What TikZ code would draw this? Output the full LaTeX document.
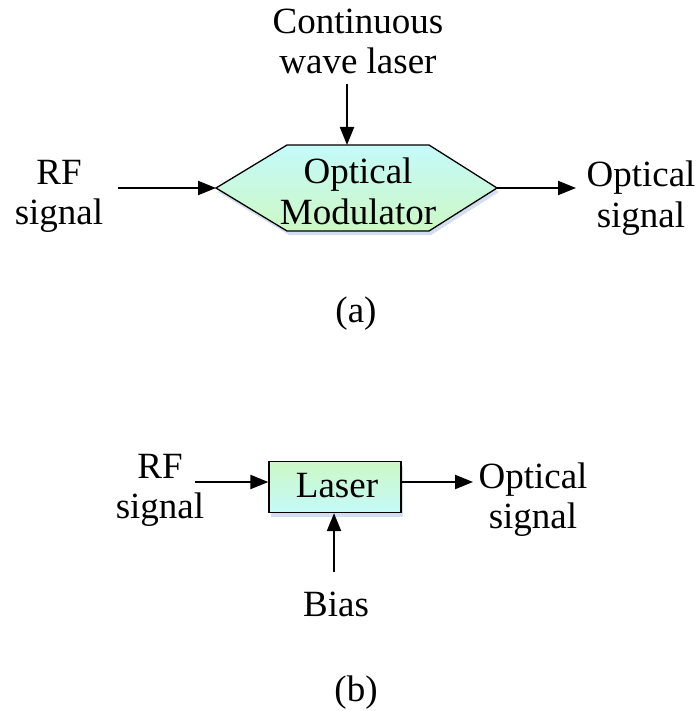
\documentclass[tikz,border=0pt]{standalone}
\usepackage{fontspec}
\setmainfont{Liberation Serif}
\usetikzlibrary{arrows.meta,shadows}
\definecolor{cyanfill}{HTML}{C4FAFA}
\definecolor{greenfill}{HTML}{CCF8C4}
\definecolor{shade}{HTML}{B8C8E8}
\tikzset{
  lbl/.style={font=\fontsize{37}{40}\selectfont, align=center, inner sep=0pt, anchor=base},
  conn/.style={line width=2.2pt, -{Triangle[length=18pt,width=14pt]}},
  blockshadow/.style={drop shadow={shadow xshift=2pt, shadow yshift=-4pt, fill=shade, opacity=0.6}},
}
\begin{document}
\begin{tikzpicture}[x=1pt,y=-1pt]
\useasboundingbox (0,0) rectangle (699,711);

% (a) optical modulator (hexagon)
\coordinate (hl) at (216,188);
\coordinate (htl) at (287,145);
\coordinate (htr) at (429,145);
\coordinate (hr) at (497,188);
\coordinate (hbr) at (429,231);
\coordinate (hbl) at (287,231);
\coordinate (ht) at (347,145);
\path[draw=black, line width=1.3pt, top color=cyanfill, bottom color=greenfill, blockshadow]
  (hl) -- (htl) -- (htr) -- (hr) -- (hbr) -- (hbl) -- cycle;
% base anchor of a multi-line label sits on its last line
\node[lbl] (mod) at (358,224) {Optical\\Modulator};

\node[lbl] (cw) at (358,74) {Continuous\\wave laser};
\coordinate (cwend) at (347,84);
\node[lbl] (rfa) at (59,225) {RF\\signal};
\coordinate (rfastart) at (118,188);
\node[lbl] (outa) at (641,227) {Optical\\signal};
\coordinate (outaend) at (576,188);
\node[lbl] (capa) at (356,322) {(a)};

\draw[conn] (cwend) -- (ht);
\draw[conn] (rfastart) -- (hl);
\draw[conn] (hr) -- (outaend);

% (b) directly modulated laser
\node[draw=black, line width=1.3pt, minimum width=132pt, minimum height=51pt,
      top color=greenfill, bottom color=cyanfill, blockshadow] (laser) at (335,487) {};
\node[lbl] (lasertxt) at (337,497) {Laser};

\node[lbl] (rfb) at (160,518) {RF\\signal};
\coordinate (rfbstart) at (195,482);
\node[lbl] (outb) at (533,528) {Optical\\signal};
\coordinate (outbend) at (473,482);
\node[lbl] (bias) at (336,616) {Bias};
\coordinate (biasstart) at (334,572);
\node[lbl] (capb) at (356,701) {(b)};

\draw[conn] (rfbstart) -- (laser.west |- rfbstart);
\draw[conn] (laser.east |- outbend) -- (outbend);
\draw[conn] (biasstart) -- (laser.south -| biasstart);
\end{tikzpicture}
\end{document}
